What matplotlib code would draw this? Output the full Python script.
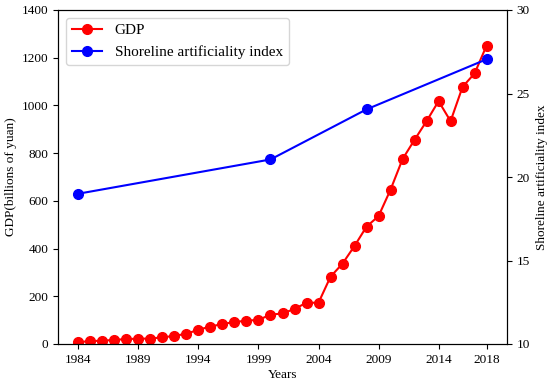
import matplotlib
matplotlib.use("Agg")
import matplotlib.pyplot as plt

years = list(range(1984, 2019))
gdp = [8, 12, 14, 17, 21, 22, 23, 28, 34, 43, 60, 73, 84, 92, 98, 101, 123, 128,
       147, 173, 173, 282, 337, 411, 492, 536, 647, 775, 856, 934, 1018, 934,
       1078, 1134, 1251]
sai_years = [1984, 2000, 2008, 2018]
sai = [19.0, 21.05, 24.05, 27.05]
xticks = [1984, 1989, 1994, 1999, 2004, 2009, 2014, 2018]

plt.rcParams['font.family'] = ['Liberation Serif', 'DejaVu Serif']

fig = plt.figure(figsize=(5.5, 3.83), dpi=100)
ax = fig.add_axes([58/550, 39/383, 449/550, 334/383])
l1, = ax.plot(years, gdp, color='red', marker='o', markersize=7, linewidth=1.5, label='GDP')
ax.set_ylim(0, 1400)
ax.set_yticks(range(0, 1401, 200))
ax.set_xticks(xticks)
ax.set_xlabel('Years', fontsize=9.5, labelpad=2)
ax.set_ylabel('GDP(billions of yuan)', fontsize=9.5, labelpad=3)
ax.tick_params(labelsize=9.5)

ax2 = ax.twinx()
l2, = ax2.plot(sai_years, sai, color='blue', marker='o', markersize=7, linewidth=1.5,
               label='Shoreline artificiality index')
ax2.set_ylim(10, 30)
ax2.set_yticks([10, 15, 20, 25, 30])
ax2.set_ylabel('Shoreline artificiality index', fontsize=9.5, labelpad=4)
ax2.tick_params(labelsize=9.5)

ax.legend(handles=[l1, l2], loc='upper left', fontsize=11)

fig.savefig('out.png', dpi=100)
